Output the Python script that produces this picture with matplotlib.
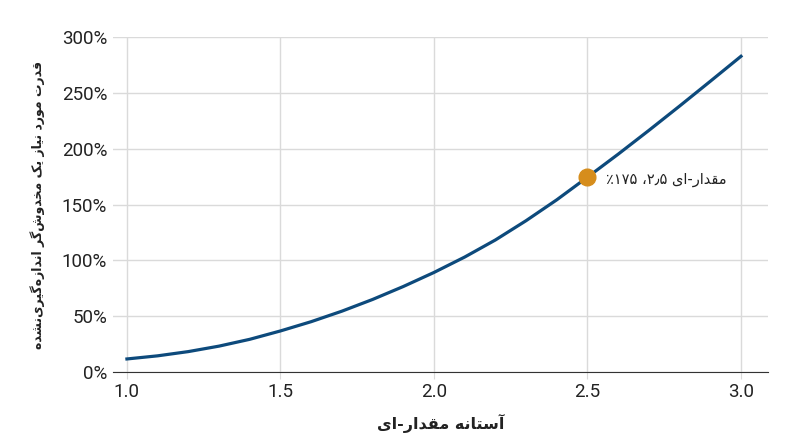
import numpy as np
import matplotlib
matplotlib.use("Agg")
import matplotlib.pyplot as plt
from matplotlib.ticker import FuncFormatter

# Data
threshold = [1.0, 1.1, 1.2, 1.3, 1.4, 1.5, 1.6, 1.7, 1.8, 1.9, 2.0,
             2.1, 2.2, 2.3, 2.4, 2.5, 2.6, 2.7, 2.8, 2.9, 3.0]
strength = [11.6, 14.4, 18.2, 23.1, 29.2, 36.7, 45.0, 54.4, 64.9, 76.5, 89.1,
            102.9, 118.2, 135.5, 154.2, 174.5, 195.1, 216.4, 238.2, 260.4, 282.8]
highlight_x = [2.5]
highlight_y = [175]
x_ticks = [1.0, 1.5, 2.0, 2.5, 3.0]
y_ticks = [0, 50, 100, 150, 200, 250, 300]

x_label = "آستانه مقدار-ای"
y_label = "قدرت مورد نیاز یک مخدوش‌گر اندازه‌گیری‌نشده"
note = "مقدار-ای ۲٫۵، ٪۱۷۵"

# minimal Persian shaping: (isolated, final, initial, medial)
FORMS = {
    "ا": ("\uFE8D", "\uFE8E", None, None),
    "آ": ("\uFE81", "\uFE82", None, None),
    "د": ("\uFEA9", "\uFEAA", None, None),
    "ر": ("\uFEAD", "\uFEAE", None, None),
    "ز": ("\uFEAF", "\uFEB0", None, None),
    "و": ("\uFEED", "\uFEEE", None, None),
    "ت": ("\uFE95", "\uFE96", "\uFE97", "\uFE98"),
    "س": ("\uFEB1", "\uFEB2", "\uFEB3", "\uFEB4"),
    "ش": ("\uFEB5", "\uFEB6", "\uFEB7", "\uFEB8"),
    "خ": ("\uFEA5", "\uFEA6", "\uFEA7", "\uFEA8"),
    "ق": ("\uFED5", "\uFED6", "\uFED7", "\uFED8"),
    "م": ("\uFEE1", "\uFEE2", "\uFEE3", "\uFEE4"),
    "ن": ("\uFEE5", "\uFEE6", "\uFEE7", "\uFEE8"),
    "ه": ("\uFEE9", "\uFEEA", "\uFEEB", "\uFEEC"),
    "ی": ("\uFBFC", "\uFBFD", "\uFBFE", "\uFBFF"),
    "ک": ("\uFB8E", "\uFB8F", "\uFB90", "\uFB91"),
    "گ": ("\uFB92", "\uFB93", "\uFB94", "\uFB95"),
}
LTR = set("۰۱۲۳۴۵۶۷۸۹٫٪0123456789.%")


def persian(text):
    chars = list(text)
    shaped = []
    for i, c in enumerate(chars):
        if c not in FORMS:
            shaped.append(c)
            continue
        prev = chars[i - 1] if i > 0 else None
        nxt = chars[i + 1] if i + 1 < len(chars) else None
        join_prev = prev in FORMS and FORMS[prev][2] is not None
        join_next = FORMS[c][2] is not None and nxt in FORMS
        iso, fin, ini, med = FORMS[c]
        if join_prev and join_next:
            shaped.append(med)
        elif join_prev:
            shaped.append(fin)
        elif join_next:
            shaped.append(ini)
        else:
            shaped.append(iso)
    # group digit runs so they stay left-to-right, reverse the rest
    units = []
    for c in shaped:
        if c == "\u200c":
            continue
        if c in LTR and units and units[-1][0] in LTR:
            units[-1] += c
        else:
            units.append(c)
    return "".join(reversed(units))


plt.rcParams["font.family"] = ["Roboto", "DejaVu Sans"]
fa_font = ["DejaVu Sans"]

fig = plt.figure(figsize=(8, 4.47), dpi=100)
ax = fig.add_axes([0.141, 0.168, 0.819, 0.749])

ax.plot(threshold, strength, color="#0d4a7c", lw=2.3, zorder=3,
        solid_joinstyle="round")
ax.plot(highlight_x, highlight_y, "o", color="#d68d1c", ms=12, zorder=4)
ax.text(highlight_x[0] + 0.06, highlight_y[0] - 3, persian(note), family=fa_font,
        fontsize=10.5, color="#222222", va="center", ha="left")

ax.set_xlim(0.954, 3.088)
ax.set_ylim(0, 300)
ax.set_xticks(x_ticks)
ax.set_yticks(y_ticks)
ax.xaxis.set_major_formatter(FuncFormatter(lambda v, p: f"{v:.1f}"))
ax.yaxis.set_major_formatter(FuncFormatter(lambda v, p: f"{v:.0f}%"))
ax.grid(True, color="#dadada", lw=1)
ax.set_axisbelow(True)
for s in ["top", "right", "left"]:
    ax.spines[s].set_visible(False)
ax.spines["bottom"].set_color("#333333")
ax.tick_params(axis="x", length=5, color="#dadada", labelsize=13.5, labelcolor="#222222", pad=3)
ax.tick_params(axis="y", length=0, labelsize=13.5, labelcolor="#222222", pad=4)

ax.set_xlabel(persian(x_label), family=fa_font, fontsize=11.5, fontweight="bold",
              color="#222222", labelpad=9)
ax.set_ylabel(persian(y_label), family=fa_font, fontsize=9, fontweight="bold",
              color="#222222", labelpad=12)

fig.savefig("out.png", dpi=100)
